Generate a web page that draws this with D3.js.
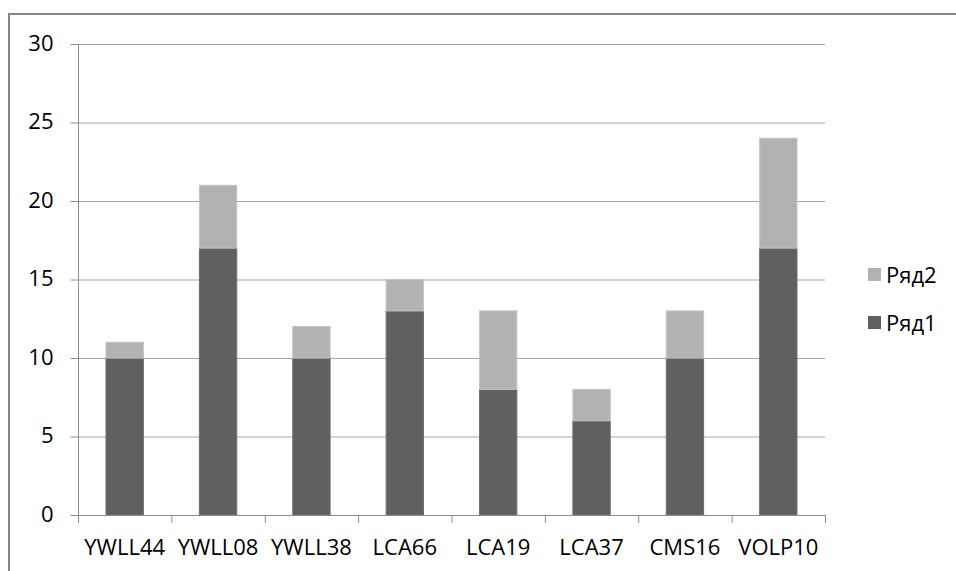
<!DOCTYPE html>
<html><head><meta charset="utf-8">
<script src="https://cdn.jsdelivr.net/npm/d3@7"></script>
<style>body{margin:0;background:#fff}svg{display:block}</style>
</head><body>
<script>
const categories = ["YWLL44","YWLL08","YWLL38","LCA66","LCA19","LCA37","CMS16","VOLP10"];
const series1 = [10,17,10,13,8,6,10,17];   // Ряд1
const series2 = [1,4,2,2,5,2,3,7];         // Ряд2
const seriesNames = ["Ряд1","Ряд2"];
const yTicks = [0,5,10,15,20,25,30];

(function(){
const W = 956, H = 571;
const svg = d3.select("body").append("svg").attr("width", W).attr("height", H);
const font = "'Open Sans', sans-serif";

// outer frame (top and left edges visible)
svg.append("path").attr("d", `M9,${H} L9,14 L${W},14`).attr("fill","none")
  .attr("stroke","#868686").attr("stroke-width",2);

const pL = 78, pR = 825, pT = 44, pB = 515;
const x = d3.scaleBand().domain(categories).range([pL, pR]).paddingInner(0).paddingOuter(0);
const y = d3.scaleLinear().domain([0,30]).range([pB, pT]);

// gridlines
svg.append("g").selectAll("line").data(yTicks.filter(d=>d>0)).join("line")
  .attr("x1", pL).attr("x2", pR)
  .attr("y1", d=>y(d)+0.5).attr("y2", d=>y(d)+0.5)
  .attr("stroke","#a6a6a6").attr("stroke-width",1);

const stack = d3.stack().keys([0,1])(categories.map((c,i)=>({cat:c,0:series1[i],1:series2[i]})));
const colors = ["#606060","#b2b2b2"];
const strokes = ["#6e6e6e","#c4c4c4"];
const bw = x.bandwidth()/2.5;
stack.forEach((layer,k)=>{
  svg.append("g").selectAll("rect").data(layer).join("rect")
    .attr("x", d=>x(d.data.cat)+x.bandwidth()/2-bw/2)
    .attr("width", bw)
    .attr("y", d=>y(d[1]))
    .attr("height", d=>y(d[0])-y(d[1]))
    .attr("fill", colors[k]).attr("stroke", strokes[k]).attr("stroke-width",1);
});

// y axis
const yAxis = svg.append("g").attr("transform",`translate(${pL+0.5},0)`)
  .call(d3.axisLeft(y).tickValues(yTicks).tickSize(8).tickPadding(17));
yAxis.select(".domain").attr("stroke","#8c8c8c").attr("d",`M0,${pT}V${pB}`);
yAxis.selectAll(".tick line").attr("stroke","#8c8c8c");
yAxis.selectAll("text").attr("font-family",font).attr("font-size",22).attr("fill","#000").attr("dy","0.28em");

// x axis
const xAxis = svg.append("g").attr("transform",`translate(0,${pB+0.5})`)
  .call(d3.axisBottom(x).tickSize(0).tickPadding(24));
xAxis.select(".domain").attr("stroke","#8c8c8c").attr("d",`M${pL},0H${pR}`);
xAxis.selectAll("text").attr("font-family",font).attr("font-size",22).attr("fill","#000");
// category boundary ticks
svg.append("g").selectAll("line").data(d3.range(categories.length+1)).join("line")
  .attr("x1", i=>pL + i*x.bandwidth()+0.5).attr("x2", i=>pL + i*x.bandwidth()+0.5)
  .attr("y1", pB).attr("y2", pB+8)
  .attr("stroke","#8c8c8c");

// legend
const legend = [{name:seriesNames[1], c:colors[1], y:275},{name:seriesNames[0], c:colors[0], y:323}];
const lg = svg.append("g");
lg.selectAll("rect").data(legend).join("rect")
  .attr("x",868).attr("y",d=>d.y-7).attr("width",13).attr("height",13).attr("fill",d=>d.c);
lg.selectAll("text").data(legend).join("text")
  .attr("x",886).attr("y",d=>d.y).attr("dy","0.36em")
  .attr("font-family",font).attr("font-size",22).attr("fill","#000").text(d=>d.name);
})();
</script>
</body></html>
